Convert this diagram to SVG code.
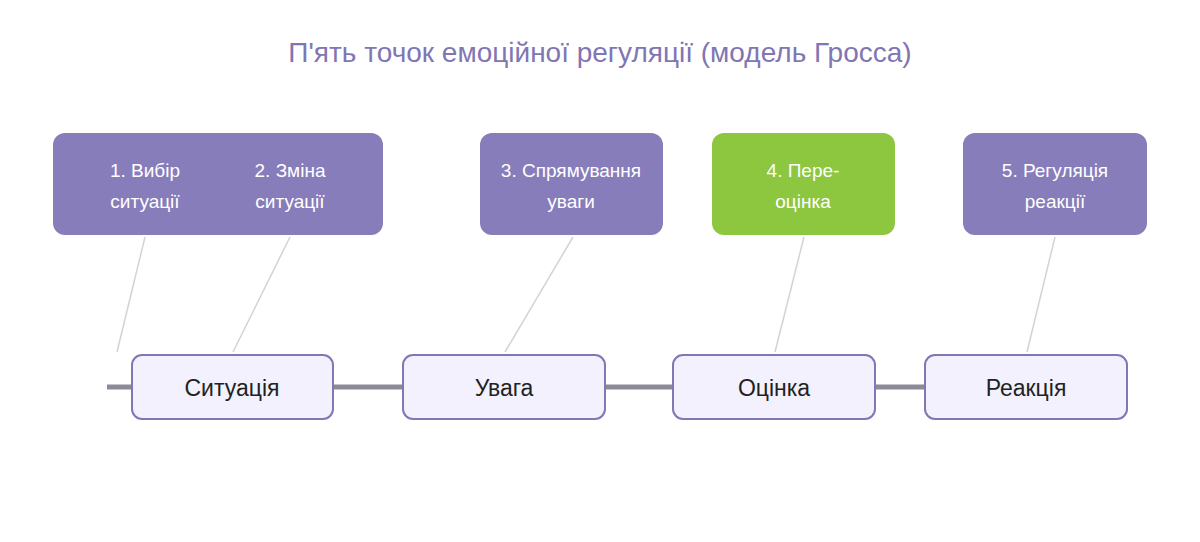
<svg xmlns="http://www.w3.org/2000/svg" width="1200" height="542" viewBox="0 0 1200 542">
<style>
text{font-family:"Liberation Sans",Arial,sans-serif;text-anchor:middle}
.top{fill:#877dba}
.green{fill:#8dc63f}
.tt{fill:#fff;font-size:19px}
.bot{fill:#f3f1fd;stroke:#8077b5;stroke-width:2}
.bt{fill:#222;font-size:23px}
.thin{stroke:#d2d2da;stroke-width:1.5}
</style>
<rect width="1200" height="542" fill="#fff"/>
<text x="600" y="62" font-size="28" fill="#8076b3">П'ять точок емоційної регуляції (модель Гросса)</text>
<g id="connectors">
<line x1="107" y1="387" x2="925" y2="387" stroke="#8b8a98" stroke-width="5"/>
<line class="thin" x1="145" y1="237" x2="117" y2="352"/>
<line class="thin" x1="290" y1="237" x2="233" y2="352"/>
<line class="thin" x1="573" y1="237" x2="505" y2="352"/>
<line class="thin" x1="804" y1="237" x2="775" y2="352"/>
<line class="thin" x1="1055" y1="237" x2="1027" y2="352"/>
</g>
<g id="n12"><rect class="top" x="53" y="133" width="330" height="102" rx="12"/>
<text class="tt" x="145" y="177">1. Вибір</text><text class="tt" x="145" y="208">ситуації</text>
<text class="tt" x="290" y="177">2. Зміна</text><text class="tt" x="290" y="208">ситуації</text></g>
<g id="n3"><rect class="top" x="480" y="133" width="183" height="102" rx="12"/>
<text class="tt" x="571" y="177">3. Спрямування</text><text class="tt" x="571" y="208">уваги</text></g>
<g id="n4"><rect class="green" x="712" y="133" width="183" height="102" rx="12"/>
<text class="tt" x="803" y="177">4. Пере-</text><text class="tt" x="803" y="208">оцінка</text></g>
<g id="n5"><rect class="top" x="963" y="133" width="184" height="102" rx="12"/>
<text class="tt" x="1055" y="177">5. Регуляція</text><text class="tt" x="1055" y="208">реакції</text></g>
<g id="s1"><rect class="bot" x="132" y="355" width="201" height="64" rx="10"/><text class="bt" x="232" y="396">Ситуація</text></g>
<g id="s2"><rect class="bot" x="403" y="355" width="202" height="64" rx="10"/><text class="bt" x="504" y="396">Увага</text></g>
<g id="s3"><rect class="bot" x="673" y="355" width="202" height="64" rx="10"/><text class="bt" x="774" y="396">Оцінка</text></g>
<g id="s4"><rect class="bot" x="925" y="355" width="202" height="64" rx="10"/><text class="bt" x="1026" y="396">Реакція</text></g>
</svg>
